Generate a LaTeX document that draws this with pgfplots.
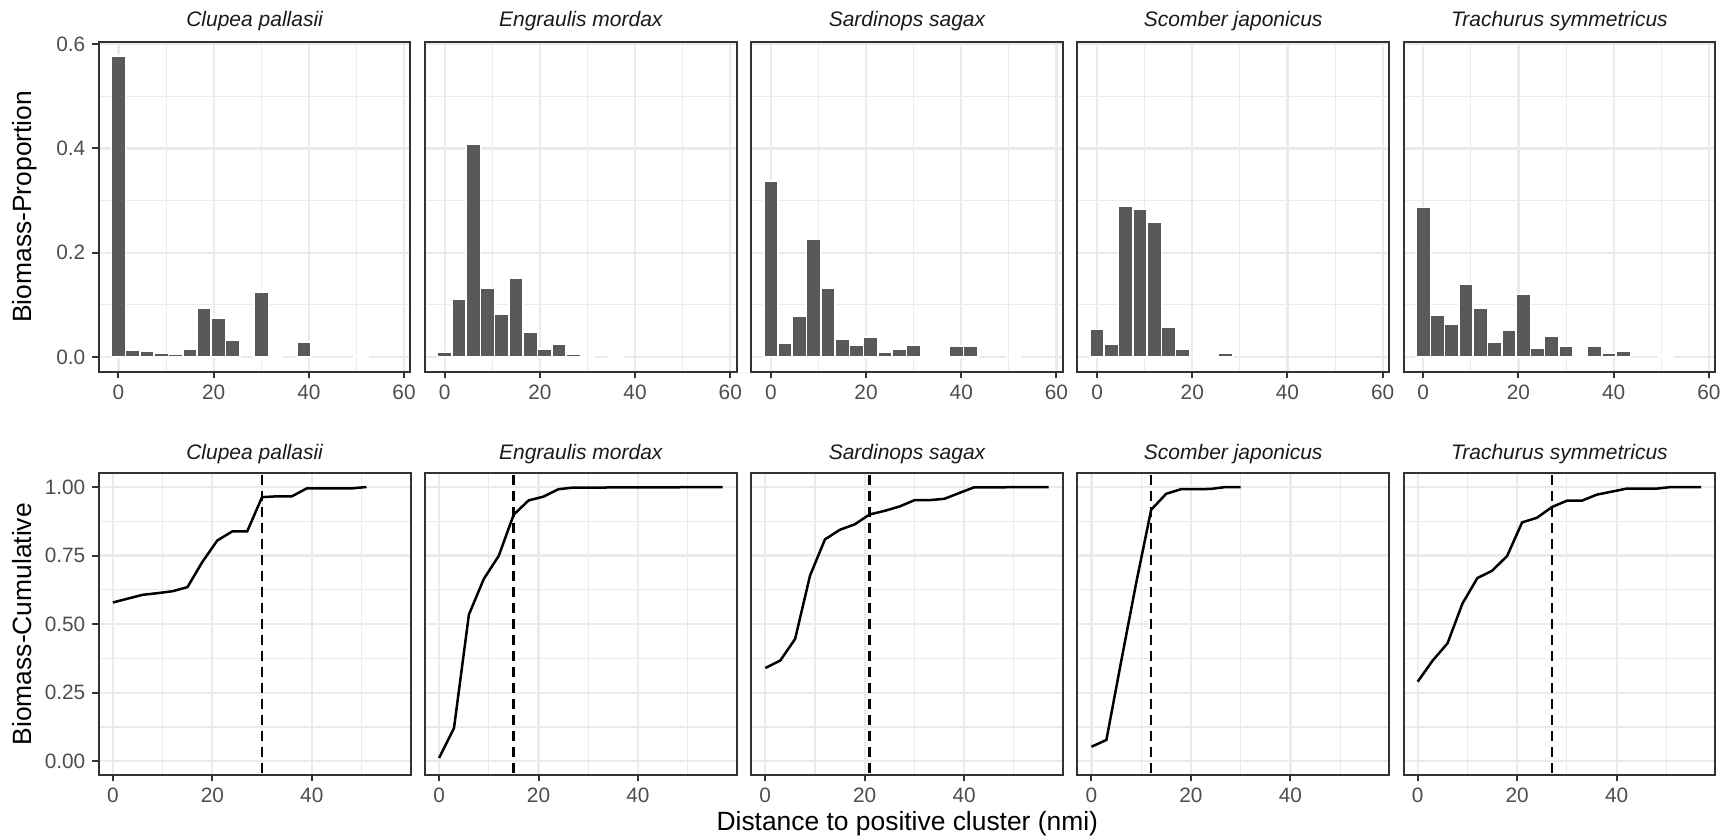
\documentclass[border=0pt]{standalone}
\usepackage{fontspec}
\setmainfont{Liberation Sans}
\usepackage{pgfplots}
\pgfplotsset{compat=1.18}
\definecolor{grey20}{HTML}{333333}
\definecolor{grey30}{HTML}{4D4D4D}
\definecolor{grey10}{HTML}{1A1A1A}
\definecolor{grey35}{HTML}{595959}
\definecolor{grey92}{HTML}{EBEBEB}
\pgfplotsset{
  facet/.style={
    scale only axis,
    width=155.9pt,
    axis line style={grey20, line width=1pt},
    tick align=outside,
    tick pos=left,
    major tick length=3.2pt,
    minor tick length=0pt,
    every major tick/.append style={grey20, line width=1pt},
    grid=both,
    major grid style={grey92, line width=1.1pt},
    minor grid style={grey92, line width=0.55pt},
    tick label style={font=\fontsize{10.4}{12}\selectfont, text=grey30},
    /pgf/number format/assume math mode=true,
    every axis title/.style={font=\fontsize{10.5}{12}\selectfont\itshape, text=grey10, at={(axis description cs:0.5,1)}, anchor=base},
    every axis y label/.style={at={(axis description cs:-0.2149,0.5)}, rotate=90, anchor=base, font=\fontsize{13.2}{15}\selectfont, text=black},
    every axis x label/.style={at={(axis description cs:0.501,-0.1846)}, anchor=base, font=\fontsize{13.2}{15}\selectfont, text=black},
  },
  toprow/.style={facet, height=165.15pt, xmin=-4.15, xmax=61.35, ymin=-0.0288, ymax=0.6048,
     xtick={0,20,40,60}, minor xtick={10,30,50}, ytick={0,0.2,0.4,0.6}, minor ytick={0.1,0.3,0.5},
     yticklabels={0.0,0.2,0.4,0.6}, title style={yshift=7.5pt}},
  botrow/.style={facet, height=150.85pt, xmin=-2.85, xmax=59.85, ymin=-0.05, ymax=1.05,
     xtick={0,20,40}, minor xtick={10,30,50}, ytick={0,0.25,0.5,0.75,1}, minor ytick={0.125,0.375,0.625,0.875},
     yticklabels={0.00,0.25,0.50,0.75,1.00}, title style={yshift=6.7pt}},
  inner/.style={ymajorticks=false, yticklabels={}},
  hbar/.style={ybar, bar width=3, bar shift=0pt, fill=grey35, draw=white, line width=0.8pt},
  cum/.style={black, line width=1.25pt, no markers},
  vl/.style={black, line width=1.3pt, dash pattern=on 5pt off 3pt},
}
\begin{document}
\begin{tikzpicture}
\useasboundingbox (0,0) rectangle (862.5pt,420pt);
% ---------------- top row ----------------
\begin{axis}[toprow, at={(49.35pt,234pt)}, anchor=south west, title={Clupea pallasii}, ylabel={Biomass-Proportion}]
\addplot[hbar] coordinates {(0,0.577) (3,0.013) (6,0.012) (9,0.007) (12,0.006) (15,0.015) (18,0.093) (21,0.074) (24,0.033) (30,0.125) (33,0.002) (39,0.029) (51,0.003)};
\end{axis}
\begin{axis}[toprow, inner, at={(212.45pt,234pt)}, anchor=south west, title={Engraulis mordax}]
\addplot[hbar] coordinates {(0,0.010) (3,0.111) (6,0.409) (9,0.132) (12,0.083) (15,0.152) (18,0.048) (21,0.015) (24,0.025) (27,0.005) (30,0.001) (36,0.001)};
\end{axis}
\begin{axis}[toprow, inner, at={(375.55pt,234pt)}, anchor=south west, title={Sardinops sagax}]
\addplot[hbar] coordinates {(0,0.337) (3,0.026) (6,0.078) (9,0.226) (12,0.132) (15,0.034) (18,0.022) (21,0.037) (24,0.009) (27,0.015) (30,0.022) (33,0.001) (36,0.004) (39,0.021) (42,0.021) (51,0.001)};
\end{axis}
\begin{axis}[toprow, inner, at={(538.65pt,234pt)}, anchor=south west, title={Scomber japonicus}]
\addplot[hbar] coordinates {(0,0.053) (3,0.024) (6,0.289) (9,0.284) (12,0.259) (15,0.057) (18,0.015) (21,0.001) (24,0.001) (27,0.008)};
\end{axis}
\begin{axis}[toprow, inner, at={(701.75pt,234pt)}, anchor=south west, title={Trachurus symmetricus}]
\addplot[hbar] coordinates {(0,0.287) (3,0.080) (6,0.063) (9,0.139) (12,0.094) (15,0.028) (18,0.052) (21,0.120) (24,0.017) (27,0.039) (30,0.020) (33,0.001) (36,0.021) (39,0.008) (42,0.012) (51,0.004)};
\end{axis}
% ---------------- bottom row ----------------
\begin{axis}[botrow, at={(49.35pt,32.5pt)}, anchor=south west, title={Clupea pallasii}, ylabel={Biomass-Cumulative}]
\addplot[cum] coordinates {(0,0.579) (3,0.593) (6,0.607) (9,0.613) (12,0.620) (15,0.635) (18,0.727) (21,0.805) (24,0.838) (27,0.838) (30,0.963) (33,0.966) (36,0.966) (39,0.995) (42,0.995) (45,0.995) (48,0.995) (51,1.0)};
\addplot[vl] coordinates {(30,-0.1) (30,1.1)};
\end{axis}
\begin{axis}[botrow, inner, at={(212.45pt,32.5pt)}, anchor=south west, title={Engraulis mordax}]
\addplot[cum] coordinates {(0,0.012) (3,0.121) (6,0.535) (9,0.665) (12,0.749) (15,0.899) (18,0.951) (21,0.965) (24,0.992) (27,0.998) (30,0.998) (33,0.998) (36,0.999) (39,0.999) (42,0.999) (45,0.999) (48,0.999) (51,1.0) (54,1.0) (57,1.0)};
\addplot[vl] coordinates {(15,-0.1) (15,1.1)};
\end{axis}
\begin{axis}[botrow, inner, at={(375.55pt,32.5pt)}, anchor=south west, title={Sardinops sagax}, xlabel={Distance to positive cluster (nmi)}]
\addplot[cum] coordinates {(0,0.340) (3,0.367) (6,0.446) (9,0.677) (12,0.809) (15,0.844) (18,0.864) (21,0.900) (24,0.913) (27,0.929) (30,0.952) (33,0.952) (36,0.957) (39,0.978) (42,0.999) (45,0.999) (48,0.999) (51,1.0) (54,1.0) (57,1.0)};
\addplot[vl] coordinates {(21,-0.1) (21,1.1)};
\end{axis}
\begin{axis}[botrow, inner, at={(538.65pt,32.5pt)}, anchor=south west, title={Scomber japonicus}]
\addplot[cum] coordinates {(0,0.053) (3,0.078) (6,0.367) (9,0.651) (12,0.917) (15,0.975) (18,0.992) (21,0.992) (24,0.993) (27,1.0) (30,1.0)};
\addplot[vl] coordinates {(12,-0.1) (12,1.1)};
\end{axis}
\begin{axis}[botrow, inner, at={(701.75pt,32.5pt)}, anchor=south west, title={Trachurus symmetricus}]
\addplot[cum] coordinates {(0,0.290) (3,0.367) (6,0.430) (9,0.575) (12,0.668) (15,0.695) (18,0.749) (21,0.871) (24,0.888) (27,0.927) (30,0.950) (33,0.950) (36,0.972) (39,0.983) (42,0.994) (45,0.994) (48,0.994) (51,1.0) (54,1.0) (57,1.0)};
\addplot[vl] coordinates {(27,-0.1) (27,1.1)};
\end{axis}
\end{tikzpicture}
\end{document}
